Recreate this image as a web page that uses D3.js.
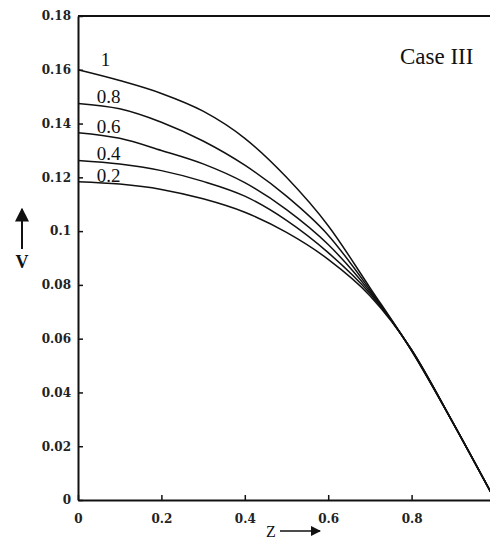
<!DOCTYPE html>
<html>
<head>
<meta charset="utf-8">
<script src="https://cdn.jsdelivr.net/npm/d3@7"></script>
<style>
  body { margin: 0; background: #fff; }
  svg { display: block; }
</style>
</head>
<body>
<div id="chart"></div>
<script>
// Chart dimensions
const width = 490;
const height = 540;

// Data
const zValues = [0, 0.1, 0.2, 0.3, 0.4, 0.5, 0.6, 0.7, 0.8, 0.9, 1.0];
const seriesNames = ["1", "0.8", "0.6", "0.4", "0.2"];
const v1   = [0.1600, 0.1560, 0.1512, 0.1446, 0.1345, 0.1200, 0.1020, 0.0790, 0.0555, 0.0285, 0];
const v08  = [0.1475, 0.1455, 0.1405, 0.1335, 0.1245, 0.1130, 0.0985, 0.0782, 0.0556, 0.0285, 0];
const v06  = [0.1366, 0.1345, 0.1300, 0.1250, 0.1180, 0.1080, 0.0950, 0.0775, 0.0557, 0.0285, 0];
const v04  = [0.1263, 0.1250, 0.1225, 0.1185, 0.1130, 0.1040, 0.0920, 0.0768, 0.0558, 0.0285, 0];
const v02  = [0.1184, 0.1175, 0.1155, 0.1120, 0.1070, 0.0995, 0.0895, 0.0760, 0.0559, 0.0285, 0];
const seriesValues = [v1, v08, v06, v04, v02];

const xTicks = [0, 0.2, 0.4, 0.6, 0.8];
const xTickLabels = ["0", "0.2", "0.4", "0.6", "0.8"];
const yTicks = [0, 0.02, 0.04, 0.06, 0.08, 0.1, 0.12, 0.14, 0.16, 0.18];
const yTickLabels = ["0", "0.02", "0.04", "0.06", "0.08", "0.1", "0.12", "0.14", "0.16", "0.18"];

// Scales
const x = d3.scaleLinear().domain([0, 1]).range([78, 495]);
const y = d3.scaleLinear().domain([0, 0.18]).range([500, 16]);

const svg = d3.select("#chart")
  .append("svg")
  .attr("width", width)
  .attr("height", height);

const tickFont = "'DejaVu Serif', serif";

// Left axis (ticks point inward)
const yAxis = svg.append("g")
  .attr("transform", `translate(${x(0)},0)`)
  .call(d3.axisLeft(y)
    .tickValues(yTicks)
    .tickFormat((d, i) => yTickLabels[i])
    .tickSizeInner(-5)
    .tickSizeOuter(0)
    .tickPadding(7));

// Bottom axis (ticks point inward)
const xAxis = svg.append("g")
  .attr("transform", `translate(0,${y(0)})`)
  .call(d3.axisBottom(x)
    .tickValues(xTicks)
    .tickFormat((d, i) => xTickLabels[i])
    .tickSizeInner(-5)
    .tickSizeOuter(0)
    .tickPadding(14));

[xAxis, yAxis].forEach(g => {
  g.select(".domain").attr("stroke", "#111").attr("stroke-width", 2);
  g.selectAll(".tick line").attr("stroke", "#111").attr("stroke-width", 1.5);
  g.selectAll(".tick text")
    .attr("font-family", tickFont)
    .attr("font-weight", "bold")
    .attr("font-size", 12)
    .attr("fill", "#222");
});

// Top frame line
svg.append("line")
  .attr("x1", x(0)).attr("x2", x(1))
  .attr("y1", y(0.18)).attr("y2", y(0.18))
  .attr("stroke", "#111")
  .attr("stroke-width", 2);

// Curves
const line = d3.line()
  .x((d, i) => x(zValues[i]))
  .y(d => y(d))
  .curve(d3.curveMonotoneX);

svg.selectAll("path.curve")
  .data(seriesValues)
  .enter()
  .append("path")
  .attr("class", "curve")
  .attr("d", line)
  .attr("fill", "none")
  .attr("stroke", "#111")
  .attr("stroke-width", 1.5);

// Curve labels
svg.selectAll("text.curve-label")
  .data(seriesNames)
  .enter()
  .append("text")
  .attr("class", "curve-label")
  .attr("x", (d, i) => x(0.045) + (i === 0 ? 4 : 0))
  .attr("y", (d, i) => y(seriesValues[i][0]) - (i === 0 ? 4 : 0))
  .attr("font-family", "'Liberation Serif', serif")
  .attr("font-size", 19)
  .attr("fill", "#111")
  .text(d => d);

// Case label
svg.append("text")
  .attr("x", 400)
  .attr("y", 64)
  .attr("font-family", "'Liberation Serif', serif")
  .attr("font-size", 23)
  .attr("fill", "#111")
  .text("Case III");

// Axis titles with arrows
const arrowDefs = svg.append("defs");
arrowDefs.append("marker")
  .attr("id", "arrow")
  .attr("viewBox", "0 0 10 10")
  .attr("refX", 9).attr("refY", 5)
  .attr("markerWidth", 7).attr("markerHeight", 7)
  .attr("orient", "auto")
  .append("path")
  .attr("d", "M0,0 L10,5 L0,10 Z")
  .attr("fill", "#111");

svg.append("line")
  .attr("x1", 22).attr("y1", 249)
  .attr("x2", 22).attr("y2", 209)
  .attr("stroke", "#111")
  .attr("stroke-width", 2)
  .attr("marker-end", "url(#arrow)");

svg.append("text")
  .attr("x", 22)
  .attr("y", 268)
  .attr("text-anchor", "middle")
  .attr("font-family", "'Liberation Serif', serif")
  .attr("font-weight", "bold")
  .attr("font-size", 18)
  .attr("fill", "#111")
  .text("V");

svg.append("text")
  .attr("x", 271)
  .attr("y", 537)
  .attr("text-anchor", "middle")
  .attr("font-family", "'Liberation Serif', serif")
  .attr("font-size", 16)
  .attr("fill", "#111")
  .text("Z");

svg.append("line")
  .attr("x1", 280).attr("y1", 531)
  .attr("x2", 320).attr("y2", 531)
  .attr("stroke", "#111")
  .attr("stroke-width", 1.5)
  .attr("marker-end", "url(#arrow)");
</script>
</body>
</html>
